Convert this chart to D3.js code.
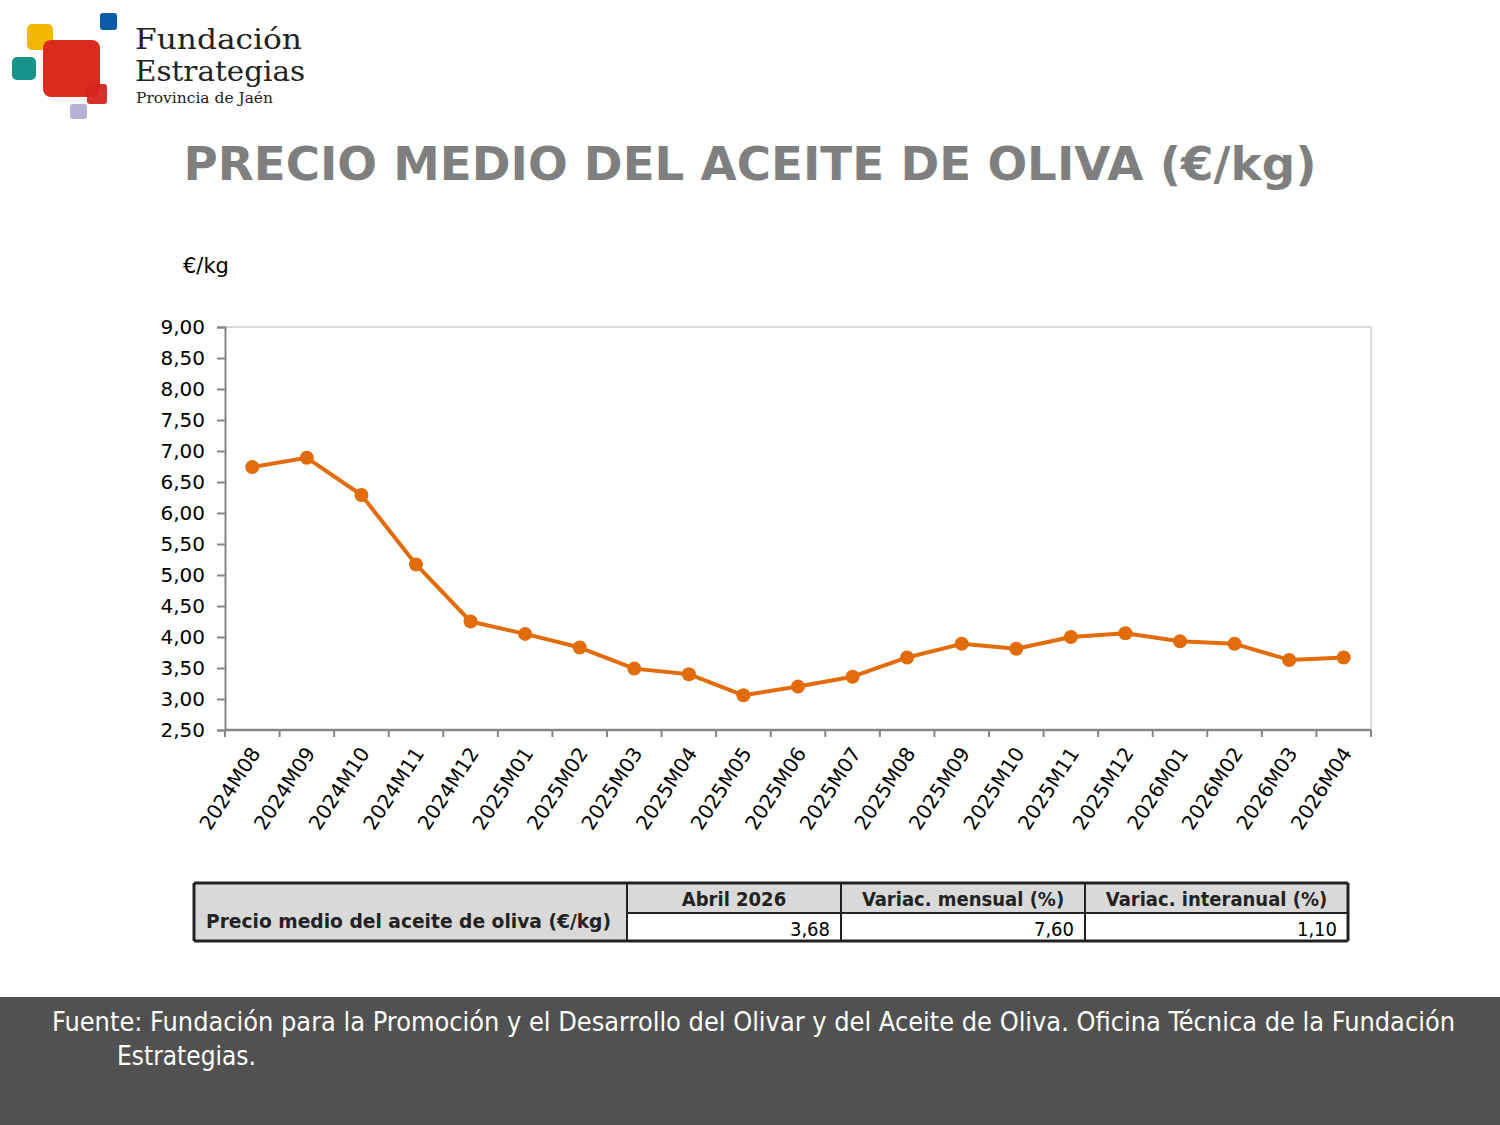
<!DOCTYPE html>
<html><head><meta charset="utf-8">
<script src="https://cdn.jsdelivr.net/npm/d3@7"></script>
<style>body{margin:0;background:#fff}svg{display:block}</style>
</head><body>
<svg id="c" width="1500" height="1125"></svg>
<script>
const categories = ["2024M08","2024M09","2024M10","2024M11","2024M12","2025M01","2025M02","2025M03","2025M04","2025M05","2025M06","2025M07","2025M08","2025M09","2025M10","2025M11","2025M12","2026M01","2026M02","2026M03","2026M04"];
const precio = [6.74,6.89,6.29,5.17,4.25,4.05,3.83,3.49,3.40,3.06,3.20,3.36,3.67,3.89,3.81,4.00,4.06,3.93,3.89,3.63,3.67];
const yTicks = [2.5,3,3.5,4,4.5,5,5.5,6,6.5,7,7.5,8,8.5,9];
const tableHeaders = ["Abril 2026","Variac. mensual (%)","Variac. interanual (%)"];
const tableValues = ["3,68","7,60","1,10"];
const tableRowLabel = "Precio medio del aceite de oliva (€/kg)";

const svg = d3.select("#c");
const fmt = d => d3.format(".2f")(d).replace(".", ",");

// Logo
const logo = svg.append("g");
[[27,24,26,26,"#f2b705",5],[12,57,24,23,"#149488",5],[100,13,17,17,"#0a5aa8",3],[70,104,17,15,"#b7b1d8",3]]
 .forEach(r=>logo.append("rect").attr("x",r[0]).attr("y",r[1]).attr("width",r[2]).attr("height",r[3]).attr("rx",r[5]).attr("fill",r[4]));
logo.append("rect").attr("x",43).attr("y",40).attr("width",57).attr("height",57).attr("rx",8).attr("fill","#dc2a1f");
logo.append("rect").attr("x",87).attr("y",84).attr("width",20).attr("height",20).attr("rx",3).attr("fill","#d52520").attr("opacity",0.95);
logo.append("text").attr("x",135).attr("y",49).attr("font-family","DejaVu Serif").attr("font-size",27).attr("fill","#222")
  .attr("textLength",167).attr("lengthAdjust","spacingAndGlyphs").text("Fundación");
logo.append("text").attr("x",135).attr("y",81).attr("font-family","DejaVu Serif").attr("font-size",27).attr("fill","#222")
  .attr("textLength",170).attr("lengthAdjust","spacingAndGlyphs").text("Estrategias");
logo.append("text").attr("x",136).attr("y",103).attr("font-family","DejaVu Serif").attr("font-size",15).attr("fill","#222")
  .attr("textLength",137).attr("lengthAdjust","spacingAndGlyphs").text("Provincia de Jaén");

// Title
svg.append("text").attr("x",750).attr("y",180).attr("text-anchor","middle")
  .attr("font-family","DejaVu Sans").attr("font-weight","bold").attr("font-size",47).attr("fill","#7f7f7f")
  .attr("textLength",1133).attr("lengthAdjust","spacingAndGlyphs")
  .text("PRECIO MEDIO DEL ACEITE DE OLIVA (€/kg)");

svg.append("text").attr("x",183).attr("y",273).attr("font-family","DejaVu Sans").attr("font-size",21).attr("fill","#000").text("€/kg");

// Chart
const L=225,R=1371,T=327,B=730;
const x = d3.scaleBand().domain(categories).range([L,R]);
const y = d3.scaleLinear().domain([2.5,9]).range([B,T]);

svg.append("line").attr("x1",L).attr("x2",R).attr("y1",T).attr("y2",T).attr("stroke","#d9d9d9").attr("stroke-width",2);
svg.append("line").attr("x1",R).attr("x2",R).attr("y1",T).attr("y2",B).attr("stroke","#d9d9d9").attr("stroke-width",2);

const yAxis = svg.append("g").attr("transform",`translate(${L},0)`)
  .call(d3.axisLeft(y).tickValues(yTicks).tickFormat(fmt).tickSize(8).tickPadding(12));
yAxis.select(".domain").attr("stroke","#868686").attr("stroke-width",2);
yAxis.selectAll(".tick line").attr("stroke","#868686").attr("stroke-width",2);
yAxis.selectAll("text").attr("font-family","DejaVu Sans").attr("font-size",20).attr("fill","#000");

const xAxis = svg.append("g").attr("transform",`translate(0,${B})`);
xAxis.append("line").attr("x1",L).attr("x2",R).attr("stroke","#868686").attr("stroke-width",2.5);
const bounds = categories.map(c=>x(c)).concat([R]);
xAxis.selectAll(".tk").data(bounds).join("line").attr("class","tk")
  .attr("x1",d=>d).attr("x2",d=>d).attr("y1",0).attr("y2",7).attr("stroke","#868686").attr("stroke-width",2);
xAxis.selectAll(".lbl").data(categories).join("text").attr("class","lbl")
  .attr("transform",d=>`translate(${x(d)+x.bandwidth()/2+9},23) rotate(-57)`)
  .attr("text-anchor","end").attr("font-family","DejaVu Sans").attr("font-size",20).attr("fill","#000")
  .text(d=>d);

const line = d3.line().x((d,i)=>x(categories[i])+x.bandwidth()/2).y(d=>y(d));
svg.append("path").datum(precio).attr("d",line).attr("fill","none").attr("stroke","#e36c0a").attr("stroke-width",4).attr("stroke-linejoin","round");
svg.selectAll(".pt").data(precio).join("circle").attr("class","pt")
  .attr("cx",(d,i)=>x(categories[i])+x.bandwidth()/2).attr("cy",d=>y(d)).attr("r",7).attr("fill","#e36c0a");

// Table
const tb = svg.append("g");
const colX = [194,627,841,1085,1348];
const rowY = [883,913,941];
tb.append("rect").attr("x",colX[0]).attr("y",rowY[0]).attr("width",colX[4]-colX[0]).attr("height",rowY[1]-rowY[0]).attr("fill","#d9d9d9");
tb.append("rect").attr("x",colX[0]).attr("y",rowY[1]).attr("width",colX[1]-colX[0]).attr("height",rowY[2]-rowY[1]).attr("fill","#d9d9d9");
const bl = (x1,y1,x2,y2,w)=>tb.append("line").attr("x1",x1).attr("y1",y1).attr("x2",x2).attr("y2",y2).attr("stroke","#222").attr("stroke-width",w);
bl(colX[0],rowY[0],colX[4],rowY[0],3);
bl(colX[0],rowY[2],colX[4],rowY[2],3);
bl(colX[1],rowY[1],colX[4],rowY[1],2);
colX.forEach((cx,i)=>bl(cx,rowY[0],cx,rowY[2],(i==0||i==4)?3:2));
tb.append("text").attr("x",206).attr("y",928).attr("font-family","DejaVu Sans Condensed").attr("font-weight","bold").attr("font-size",20).attr("fill","#222")
  .attr("textLength",405).attr("lengthAdjust","spacingAndGlyphs").text(tableRowLabel);
tableHeaders.forEach((h,i)=>{
  tb.append("text").attr("x",(colX[i+1]+colX[i+2])/2).attr("y",906).attr("text-anchor","middle")
    .attr("font-family","DejaVu Sans Condensed").attr("font-weight","bold").attr("font-size",20).attr("fill","#222").text(h);
  tb.append("text").attr("x",colX[i+2]-11).attr("y",936).attr("text-anchor","end")
    .attr("font-family","DejaVu Sans Condensed").attr("font-size",20).attr("fill","#000").text(tableValues[i]);
});

// Footer
svg.append("rect").attr("x",0).attr("y",997).attr("width",1500).attr("height",128).attr("fill","#515151");
svg.append("text").attr("x",52).attr("y",1031).attr("font-family","DejaVu Sans Condensed").attr("font-size",26).attr("fill","#fff")
  .attr("textLength",1403).attr("lengthAdjust","spacingAndGlyphs")
  .text("Fuente: Fundación para la Promoción y el Desarrollo del Olivar y del Aceite de Oliva. Oficina Técnica de la Fundación");
svg.append("text").attr("x",117).attr("y",1065).attr("font-family","DejaVu Sans Condensed").attr("font-size",26).attr("fill","#fff").text("Estrategias.");
</script>
</body></html>
